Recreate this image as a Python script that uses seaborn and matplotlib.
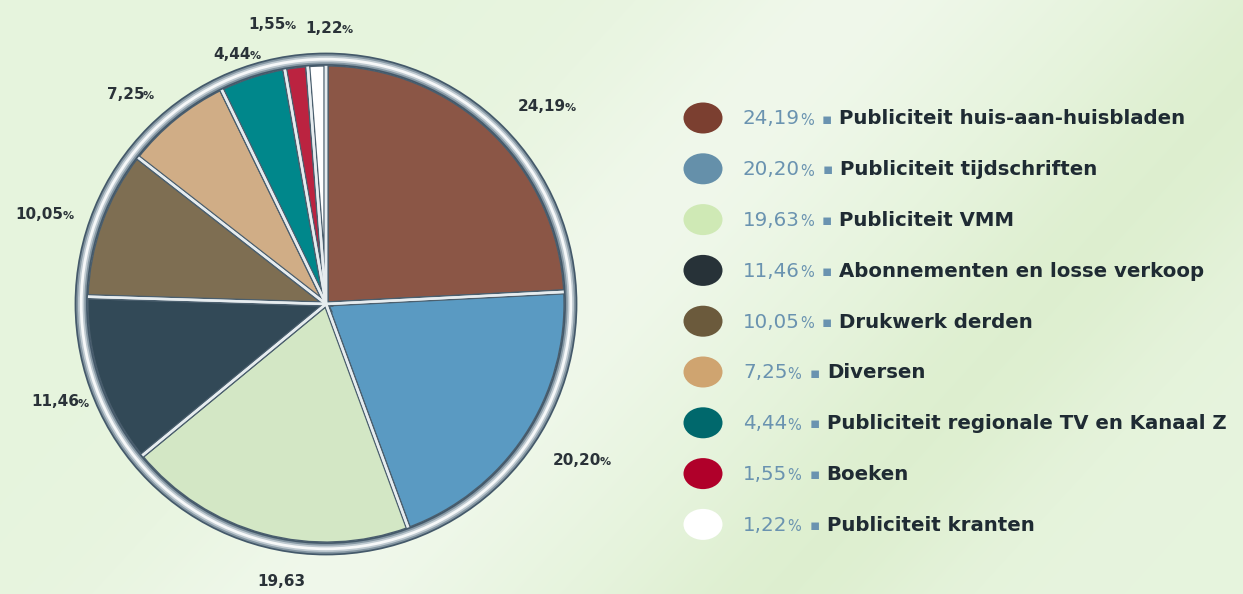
import numpy as np
import matplotlib
matplotlib.use("Agg")
import matplotlib.pyplot as plt
from matplotlib.patches import Circle, Ellipse
import seaborn as sns

# ---------------- data ----------------
categories = [
    "Publiciteit huis-aan-huisbladen",
    "Publiciteit tijdschriften",
    "Publiciteit VMM",
    "Abonnementen en losse verkoop",
    "Drukwerk derden",
    "Diversen",
    "Publiciteit regionale TV en Kanaal Z",
    "Boeken",
    "Publiciteit kranten",
]
shares = [24.19, 20.20, 19.63, 11.46, 10.05, 7.25, 4.44, 1.55, 1.22]
share_labels = ["24,19", "20,20", "19,63", "11,46", "10,05", "7,25", "4,44", "1,55", "1,22"]
pie_label_pct = [True, True, False, True, True, True, True, True, True]

# ---------------- styles ----------------
pie_colors = ["#8b5646", "#5a9ac2", "#d3e7c5", "#324957", "#7e6e52",
              "#d0ad86", "#00878b", "#bb2340", "#ffffff"]
legend_colors = ["#7b3f30", "#6590aa", "#cfe9b5", "#273238", "#6b5a3c",
                 "#cfa470", "#00686c", "#b0002a", "#ffffff"]
label_dist = [1.22, 1.23, 1.17, 1.20, 1.25, 1.21, 1.11, 1.19, 1.15]
label_shift = [-4.0, 1.5, 6.0, 1.0, 2.4, 4.7, 2.6, 4.7, -1.8]

sns.set_theme(style="white")
plt.rcParams["font.family"] = ["DejaVu Sans"]

W, H = 1243, 594
fig = plt.figure(figsize=(W / 100, H / 100), dpi=100)

# background gradient
bg = fig.add_axes([0, 0, 1, 1], zorder=-5)
yy, xx = np.mgrid[0:H, 0:W]
base = np.array([0.905, 0.957, 0.870])
light = np.array([0.940, 0.972, 0.920])
dark = np.array([0.870, 0.937, 0.815])
d = (xx / W) * 0.8 + (yy / H) * 0.35
t1 = np.exp(-((d - 0.55) / 0.12) ** 2)
t2 = np.exp(-((d - 0.85) / 0.10) ** 2)
img = base[None, None, :] * np.ones((H, W, 1))
img = img + (light - base)[None, None, :] * t1[..., None] + (dark - base)[None, None, :] * t2[..., None]
bg.imshow(np.clip(img, 0, 1), aspect="auto", extent=[0, W, H, 0])
bg.set_axis_off()

# pie axes: centre at (326, 304) px, radius 240 px
R = 240
cx, cy = 326, 304
span = 1.25
size = 2 * span * R
ax = fig.add_axes([(cx - size / 2) / W, (H - cy - size / 2) / H, size / W, size / H])
ax.set_facecolor("none")

wedges, _ = ax.pie(shares, colors=pie_colors, startangle=90, counterclock=False,
                   radius=1.0,
                   wedgeprops=dict(edgecolor="#4b5f6e", linewidth=3.8, antialiased=True))
ax.pie(shares, colors=["none"] * len(shares), startangle=90, counterclock=False,
       radius=1.0, wedgeprops=dict(edgecolor="#e6ecef", linewidth=1.8, fill=False))

# rim
for lw, col in [(9.5, "#44596a"), (7.0, "#8597a3"), (4.5, "#bfcad1"), (2.0, "#f6f8f9")]:
    ax.add_patch(Circle((0, 0), 1.02, fill=False, lw=lw, ec=col, zorder=10))

ax.set_xlim(-span, span)
ax.set_ylim(-span, span)
ax.set_aspect("equal")
ax.set_axis_off()

lab_color = "#2a3238"
for w, txt, pct, dist, sh in zip(wedges, share_labels, pie_label_pct, label_dist, label_shift):
    ang = np.deg2rad((w.theta1 + w.theta2) / 2 + sh)
    x, y = dist * np.cos(ang), dist * np.sin(ang)
    t = ax.text(x, y, txt, ha="center", va="center", fontsize=11, fontweight="bold",
                color=lab_color, clip_on=False, zorder=20)
    if pct:
        ax.annotate("%", xy=(1, 0), xycoords=t, xytext=(-1, 0.5), textcoords="offset points",
                    ha="left", va="bottom", fontsize=8, fontweight="bold", color=lab_color,
                    annotation_clip=False)

# legend
leg = fig.add_axes([0, 0, 1, 1], zorder=5)
leg.set_xlim(0, W)
leg.set_ylim(H, 0)
leg.set_axis_off()
leg.set_facecolor("none")
row0, step = 118, 50.8
pct_color = "#6a93b0"
txt_color = "#1f2b33"
for i, (cat, lab, col) in enumerate(zip(categories, share_labels, legend_colors)):
    y = row0 + i * step
    leg.add_patch(Ellipse((703, y), 39, 31, fc=col, ec="none"))
    t1 = leg.text(743, y + 1, lab, ha="left", va="center", fontsize=14.3,
                  color=pct_color)
    t2 = leg.annotate("%", xy=(1, 0), xycoords=t1, xytext=(0, 0.5), textcoords="offset points",
                      ha="left", va="bottom", fontsize=10.5, color=pct_color)
    t3 = leg.annotate("\u25aa", xy=(1, 0.5), xycoords=(t2, t1), xytext=(6, 0),
                      textcoords="offset points", ha="left", va="center",
                      fontsize=11, color=pct_color)
    leg.annotate(cat, xy=(1, 0.5), xycoords=(t3, t1), xytext=(5, 0),
                 textcoords="offset points", ha="left", va="center",
                 fontsize=14.2, fontweight="bold", color=txt_color)

fig.savefig("out.png", dpi=100)
